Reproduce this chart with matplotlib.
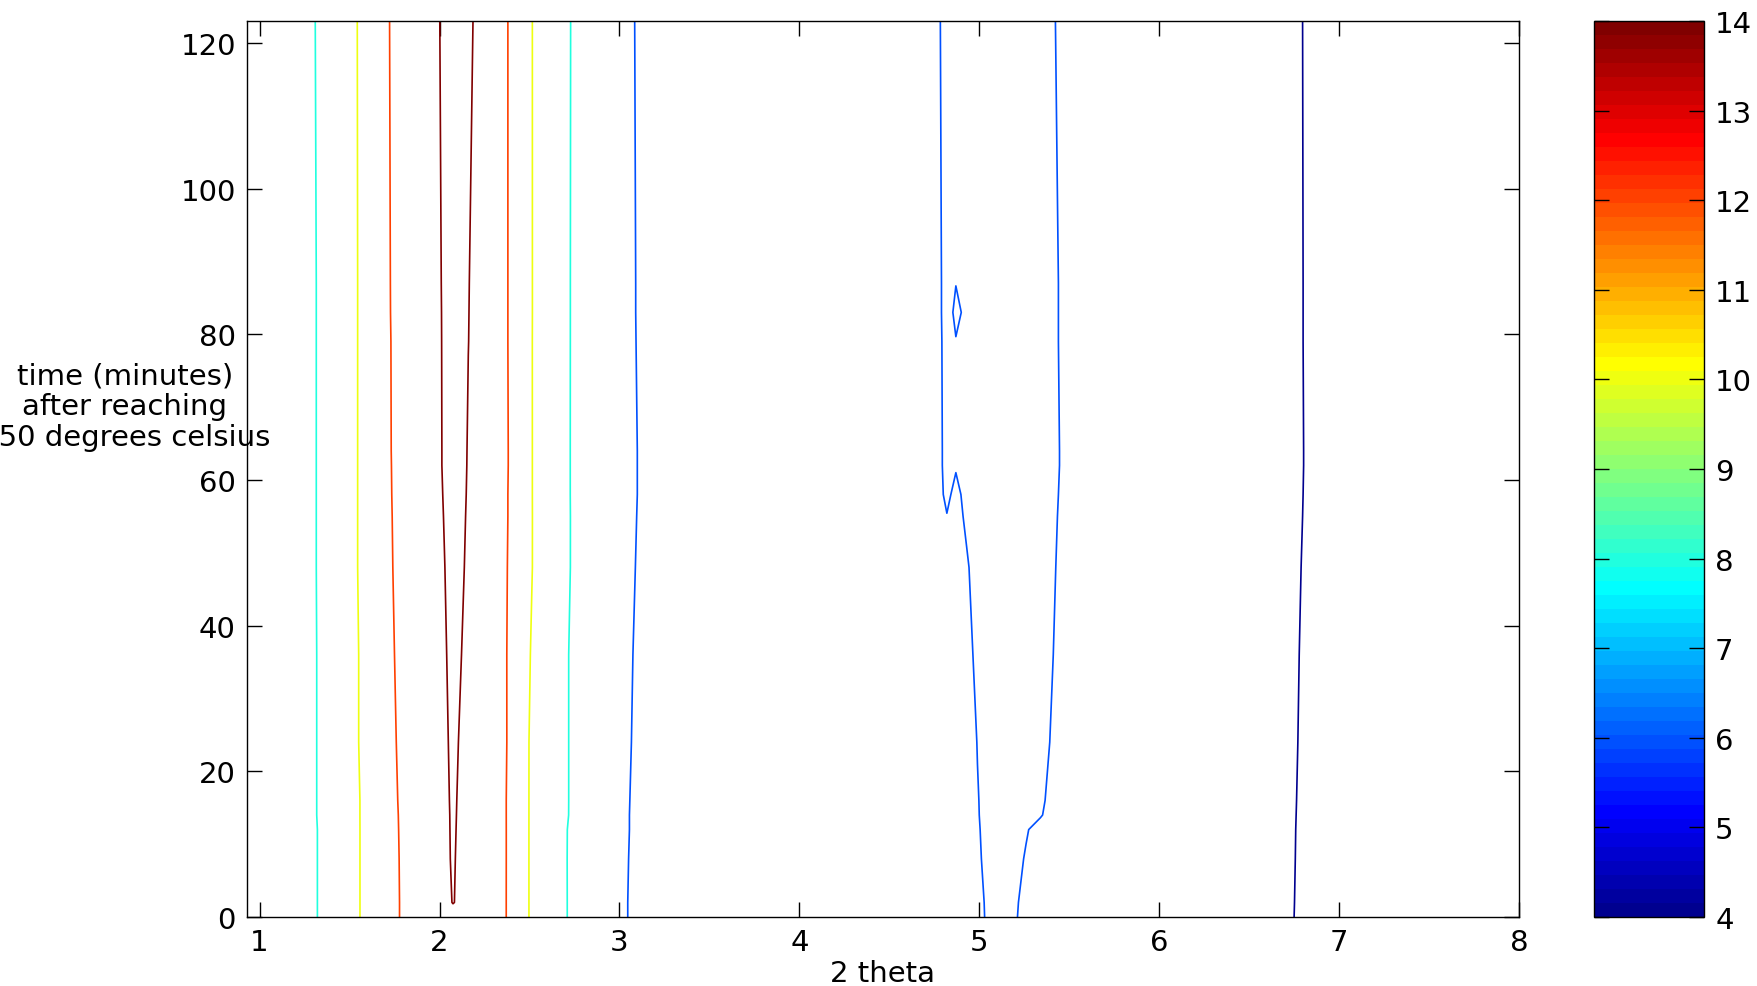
# Contour map of diffraction intensity vs 2 theta and time
import numpy as np
import matplotlib.pyplot as plt
from matplotlib.colors import Normalize, ListedColormap
from matplotlib.cm import ScalarMappable

# 2 theta grid (columns) and time rows (minutes)
two_theta = [0.93, 1.12, 1.44, 1.66, 1.90, 2.00, 2.075, 2.16, 2.32, 2.44,
             2.60, 2.88, 3.40, 4.30, 4.70, 4.82, 4.87, 4.93, 4.99, 5.06,
             5.14, 5.26, 5.34, 5.48, 5.70, 6.40, 7.20, 8.00]
minutes = [0, 2, 8, 12, 14, 16, 24, 36, 48, 55, 58, 62, 64, 79, 83, 87, 123]

# intensity, one row per time value
intensity = [
    [6.8, 7.0, 8.59, 11.22, 12.81, 13.40, 13.70, 13.50, 13.06, 10.56, 8.99, 6.47, 5.0, 5.0, 5.4, 5.50, 5.60, 5.65, 5.75, 6.19, 6.35, 5.77, 5.60, 5.50, 5.4, 4.7, 3.10, 3.0],
    [6.8, 7.0, 8.59, 11.22, 12.81, 13.65, 14.03, 13.71, 13.06, 10.56, 8.99, 6.47, 5.0, 5.0, 5.4, 5.50, 5.60, 5.65, 5.75, 6.22, 6.35, 5.81, 5.60, 5.50, 5.4, 4.7, 3.11, 3.0],
    [6.8, 7.0, 8.59, 11.22, 12.84, 13.40, 14.15, 13.17, 13.06, 10.57, 8.97, 6.49, 5.0, 5.0, 5.4, 5.50, 5.60, 5.70, 5.85, 6.33, 6.40, 5.95, 5.65, 5.50, 5.4, 4.7, 3.13, 3.0],
    [6.8, 7.0, 8.59, 11.22, 12.88, 13.32, 14.20, 13.20, 13.06, 10.57, 8.97, 6.51, 5.0, 5.0, 5.4, 5.50, 5.60, 5.75, 5.90, 6.37, 6.45, 6.05, 5.78, 5.55, 5.4, 4.7, 3.14, 3.0],
    [6.8, 7.0, 8.62, 11.20, 12.93, 13.30, 14.22, 13.24, 13.10, 10.51, 9.08, 6.51, 5.0, 5.0, 5.4, 5.50, 5.60, 5.75, 5.93, 6.42, 6.45, 6.20, 6.05, 5.47, 5.4, 4.7, 3.15, 3.0],
    [6.8, 7.0, 8.62, 11.20, 12.98, 13.31, 14.25, 13.24, 13.10, 10.51, 9.08, 6.52, 5.0, 5.0, 5.4, 5.50, 5.60, 5.75, 5.95, 6.39, 6.45, 6.30, 6.10, 5.56, 5.4, 4.7, 3.16, 3.0],
    [6.8, 7.0, 8.62, 11.36, 12.90, 13.34, 14.35, 13.36, 13.21, 10.53, 9.05, 6.56, 5.0, 5.0, 5.4, 5.50, 5.50, 5.50, 6.03, 6.40, 6.45, 6.35, 6.20, 5.66, 5.4, 4.7, 3.19, 3.0],
    [6.8, 7.0, 8.62, 11.36, 13.07, 13.43, 14.50, 13.60, 13.09, 10.67, 9.02, 6.60, 5.0, 5.0, 5.4, 5.55, 5.55, 5.60, 6.29, 6.45, 6.50, 6.40, 6.25, 5.76, 5.4, 4.7, 3.22, 3.0],
    [6.8, 7.0, 8.64, 11.49, 13.01, 13.60, 14.60, 13.79, 13.08, 10.81, 9.11, 6.67, 5.0, 5.0, 5.4, 5.60, 5.70, 5.90, 6.36, 6.50, 6.50, 6.45, 6.25, 5.84, 5.4, 4.7, 3.26, 3.0],
    [6.8, 7.0, 8.64, 11.49, 13.08, 13.73, 14.65, 13.86, 13.16, 10.84, 9.08, 6.71, 5.0, 5.0, 5.4, 5.98, 5.70, 6.15, 6.45, 6.50, 6.50, 6.45, 6.25, 5.88, 5.4, 4.7, 3.29, 3.0],
    [6.8, 7.0, 8.64, 11.49, 13.13, 13.78, 14.70, 13.89, 13.14, 10.86, 9.05, 6.73, 5.0, 5.0, 5.4, 6.12, 5.85, 6.17, 6.50, 6.55, 6.50, 6.45, 6.25, 5.90, 5.4, 4.7, 3.30, 3.0],
    [6.8, 7.0, 8.64, 11.49, 13.17, 13.84, 14.75, 13.92, 13.22, 10.86, 9.05, 6.73, 5.0, 5.0, 5.4, 6.16, 6.05, 6.30, 6.50, 6.55, 6.50, 6.45, 6.25, 5.92, 5.4, 4.7, 3.31, 3.0],
    [6.8, 7.0, 8.64, 11.49, 13.20, 13.84, 14.75, 13.93, 13.22, 10.86, 9.05, 6.73, 5.0, 5.0, 5.4, 6.16, 6.10, 6.30, 6.50, 6.55, 6.50, 6.45, 6.25, 5.92, 5.4, 4.7, 3.31, 3.0],
    [6.8, 7.0, 8.64, 11.49, 13.24, 13.85, 14.80, 14.01, 13.18, 10.82, 9.09, 6.69, 5.0, 5.0, 5.4, 6.18, 6.02, 6.25, 6.50, 6.55, 6.50, 6.45, 6.25, 5.90, 5.4, 4.7, 3.30, 3.0],
    [6.8, 7.0, 8.64, 11.49, 13.30, 13.86, 14.80, 14.02, 13.18, 10.82, 9.10, 6.68, 5.0, 5.0, 5.4, 6.20, 5.90, 6.10, 6.45, 6.50, 6.50, 6.45, 6.25, 5.90, 5.4, 4.7, 3.30, 3.0],
    [6.8, 7.0, 8.64, 11.49, 13.32, 13.88, 14.80, 14.03, 13.18, 10.82, 9.10, 6.68, 5.0, 5.0, 5.4, 6.20, 6.01, 6.25, 6.50, 6.55, 6.50, 6.45, 6.25, 5.90, 5.4, 4.7, 3.30, 3.0],
    [6.8, 7.0, 8.69, 11.49, 13.45, 13.98, 14.90, 14.15, 13.23, 10.77, 9.15, 6.65, 5.0, 5.0, 5.4, 6.26, 6.30, 6.40, 6.50, 6.50, 6.50, 6.45, 6.25, 5.83, 5.4, 4.7, 3.29, 3.0],
]

levels = [4, 6, 8, 10, 12, 14]
x_ticks = [1, 2, 3, 4, 5, 6, 7, 8]
y_ticks = [0, 20, 40, 60, 80, 100, 120]
cbar_ticks = [4, 5, 6, 7, 8, 9, 10, 11, 12, 13, 14]


def matlab_jet(m=64):
    # same construction as MATLAB's jet(m)
    n = int(np.ceil(m / 4))
    u = np.concatenate([np.arange(1, n + 1) / n, np.ones(n - 1), np.arange(n, 0, -1) / n])
    g = int(np.ceil(n / 2)) - (1 if m % 4 == 1 else 0) + np.arange(1, len(u) + 1)
    r = g + n
    b = g - n
    rgb = np.zeros((m, 3))
    for ch, idx in enumerate([r, g, b]):
        keep = (idx >= 1) & (idx <= m)
        rgb[idx[keep] - 1, ch] = u[keep]
    return ListedColormap(rgb)


plt.rcParams['font.family'] = 'DejaVu Sans'
plt.rcParams['font.size'] = 21

W, H = 1758, 987
fig = plt.figure(figsize=(W / 100, H / 100), dpi=100)

# axes box in pixel terms, converted to figure fractions
ax = fig.add_axes([247 / W, 1 - 918 / H, 1272 / W, 896 / H])
cmap = matlab_jet(64)
norm = Normalize(vmin=4, vmax=14)

ax.contour(np.array(two_theta), np.array(minutes), np.array(intensity),
           levels=levels, cmap=cmap, norm=norm, linewidths=1.2)

ax.set_xlim(0.93, 8)
ax.set_ylim(0, 123)
ax.set_xticks(x_ticks)
ax.set_yticks(y_ticks)
ax.tick_params(direction='in', top=True, right=True, length=11, width=1,
               labelsize=21, pad=8)
for s in ax.spines.values():
    s.set_linewidth(1.0)

ax.set_xlabel('2 theta', fontsize=21, labelpad=2)
ax.set_ylabel('time (minutes)\nafter reaching\n150 degrees celsius',
              rotation=0, ha='center', va='center', fontsize=21, linespacing=1.12)
ax.yaxis.set_label_coords(-0.096, 0.57)

# colorbar
cax = fig.add_axes([1594 / W, 1 - 918 / H, 110 / W, 896 / H])
sm = ScalarMappable(norm=norm, cmap=cmap)
cb = fig.colorbar(sm, cax=cax, ticks=cbar_ticks)
cb.outline.set_linewidth(1.0)
cax.tick_params(direction='in', left=True, right=True, length=11, width=1,
                labelsize=21, pad=8)

fig.savefig('out.png', dpi=100)
